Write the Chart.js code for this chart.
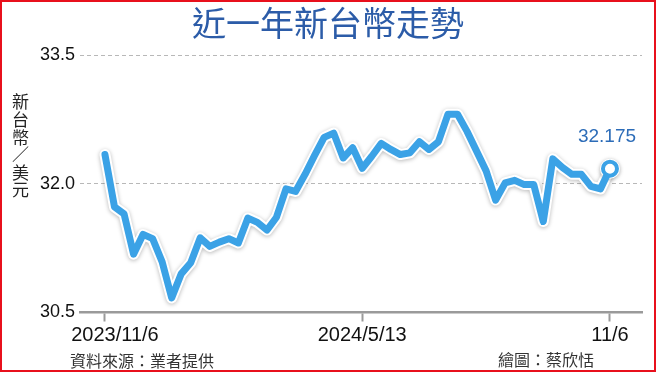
<!DOCTYPE html>
<html>
<head>
<meta charset="utf-8">
<title>近一年新台幣走勢</title>
<script src="https://cdn.jsdelivr.net/npm/chart.js@4.4.1/dist/chart.umd.min.js"></script>
<style>
  html, body { margin: 0; padding: 0; background: #fff; }
  #wrap { width: 656px; height: 372px; }
</style>
</head>
<body>
<div id="wrap"><canvas id="myChart" width="656" height="372"></canvas></div>
<script>
// weekly closes, 2023/11/6 .. 2024/11/6 (NTD per USD)
const rates = [
    32.34, 31.73, 31.65, 31.18, 31.41, 31.36, 31.09, 30.67, 30.95, 31.08,
    31.37, 31.27, 31.32, 31.36, 31.31, 31.60, 31.55, 31.46, 31.61, 31.94,
    31.91, 32.11, 32.33, 32.54, 32.59, 32.30, 32.42, 32.18, 32.32, 32.47,
    32.40, 32.34, 32.36, 32.49, 32.40, 32.49, 32.81, 32.81, 32.61, 32.38,
    32.15, 31.81, 32.01, 32.04, 31.99, 31.99, 31.56, 32.29, 32.19, 32.11,
    32.11, 31.97, 31.94, 32.175
];
const tickIndex = [0, 27, 53];
const tickLabels = ['2023/11/6', '2024/5/13', '11/6'];
const yTicks = [30.5, 32.0, 33.5];

const chartTitle = '近一年新台幣走勢';
const yTitle = ['新', '台', '幣', '／', '美', '元'];
const sourceText = '資料來源：業者提供';
const creditText = '繪圖：蔡欣恬';
const lastLabel = '32.175';

const lineBlue = '#3ba2e6';
const points = rates.map((v, i) => ({ x: i, y: v }));
const last = rates.length - 1;

// soft shadow under the white halo line
const haloShadow = {
    id: 'haloShadow',
    beforeDatasetDraw(chart, args) {
        if (args.index !== 1) return;
        chart.ctx.save();
        chart.ctx.shadowColor = 'rgba(0, 0, 0, 0.28)';
        chart.ctx.shadowBlur = 4;
        chart.ctx.shadowOffsetY = 1;
    },
    afterDatasetDraw(chart, args) {
        if (args.index !== 1) return;
        chart.ctx.restore();
    }
};

// title, stacked y title, x labels, footers, end value, frame
const decor = {
    id: 'decor',
    afterDraw(chart) {
        const ctx = chart.ctx;
        ctx.save();

        ctx.fillStyle = '#2c5ca8';
        ctx.font = '400 34px "Noto Sans CJK TC"';
        ctx.textAlign = 'center';
        ctx.textBaseline = 'middle';
        ctx.fillText(chartTitle, 328, 23);

        ctx.fillStyle = '#222';
        ctx.font = '17px "Noto Sans CJK TC"';
        yTitle.forEach((ch, i) => {
            ctx.fillText(ch, 20.5, 102 + i * 17.6);
        });

        // first date label sits a little right of its tick in the original
        const xScale = chart.scales.x;
        ctx.fillStyle = '#111';
        ctx.font = '20px "Liberation Sans"';
        tickIndex.forEach((v, i) => {
            const shift = i === 0 ? 10 : 0;
            ctx.fillText(tickLabels[i], xScale.getPixelForValue(v) + shift, 335);
        });

        ctx.fillStyle = '#333';
        ctx.font = '16px "Noto Sans CJK TC"';
        ctx.textAlign = 'left';
        ctx.fillText(sourceText, 70, 361);
        ctx.textAlign = 'right';
        ctx.fillText(creditText, 594, 360);

        const meta = chart.getDatasetMeta(0);
        const pt = meta.data[last];
        ctx.fillStyle = '#2c6cb8';
        ctx.font = '19px "Liberation Sans"';
        ctx.textAlign = 'center';
        ctx.fillText(lastLabel, pt.x - 3, pt.y - 32);

        ctx.strokeStyle = '#e8101c';
        ctx.lineWidth = 2;
        ctx.strokeRect(1, 1, 654, 370);
        ctx.restore();
    }
};

const config = {
    type: 'line',
    data: {
        datasets: [
            {
                data: points,
                borderColor: lineBlue,
                borderWidth: 7,
                borderJoinStyle: 'round',
                borderCapStyle: 'round',
                tension: 0,
                pointRadius: ctx => ctx.dataIndex === last ? 7 : 0,
                pointBorderWidth: 4,
                pointBorderColor: lineBlue,
                pointBackgroundColor: '#fff'
            },
            {
                data: points,
                borderColor: '#fff',
                borderWidth: 11,
                borderJoinStyle: 'round',
                borderCapStyle: 'round',
                tension: 0,
                pointRadius: ctx => ctx.dataIndex === last ? 9 : 0,
                pointBorderWidth: 2,
                pointBorderColor: '#fff',
                pointBackgroundColor: '#fff'
            }
        ]
    },
    options: {
        responsive: false,
        animation: false,
        layout: { padding: { top: 55, right: 14, left: 0, bottom: 0 } },
        plugins: {
            legend: { display: false },
            tooltip: { enabled: false },
            title: { display: false }
        },
        scales: {
            x: {
                type: 'linear',
                min: -2.62,
                max: 56.36,
                afterFit: scale => { scale.height = 59.5; },
                afterBuildTicks: scale => {
                    scale.ticks = tickIndex.map(v => ({ value: v }));
                },
                grid: {
                    drawOnChartArea: false,
                    drawTicks: true,
                    tickLength: 9,
                    tickWidth: 2,
                    tickColor: '#9a9a9a'
                },
                border: { display: true, color: '#9a9a9a', width: 2.5 },
                ticks: { display: false }
            },
            y: {
                min: 30.5,
                max: 33.5,
                afterFit: scale => { scale.width = 80; },
                afterBuildTicks: scale => {
                    scale.ticks = yTicks.map(v => ({ value: v }));
                },
                grid: {
                    color: ctx => (ctx.tick && ctx.tick.value === 30.5) ? 'rgba(0,0,0,0)' : '#b8b8b8',
                    lineWidth: 1,
                    drawTicks: false
                },
                border: { display: false, dash: [4, 3] },
                ticks: {
                    padding: 5,
                    color: '#111',
                    font: { family: 'Liberation Sans', size: 18 },
                    callback: v => v.toFixed(1)
                }
            }
        }
    },
    plugins: [haloShadow, decor]
};

const myChart = new Chart(document.getElementById('myChart'), config);
</script>
</body>
</html>
